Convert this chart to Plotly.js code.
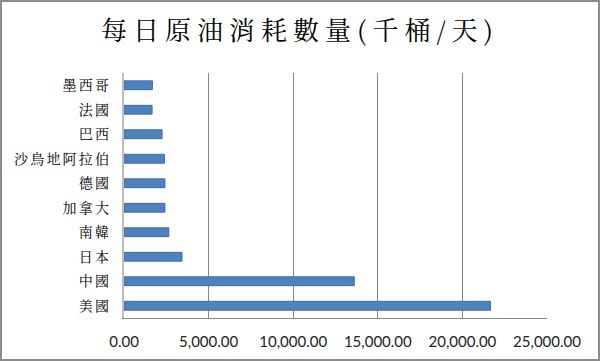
<!DOCTYPE html>
<html>
<head>
<meta charset="utf-8">
<script src="https://cdn.plot.ly/plotly-3.0.1.min.js"></script>
<style>
html,body{margin:0;padding:0;background:#fff;}
#wrap{position:relative;width:600px;height:361px;}
#chart{width:600px;height:361px;}
#frame{position:absolute;left:0;top:0;width:600px;height:361px;box-sizing:border-box;border:2px solid #8c8c8c;pointer-events:none;}
#chart .ytick text{letter-spacing:2.2px;}
#chart .gtitle{letter-spacing:6px;}
</style>
</head>
<body>
<div id="wrap"><div id="chart"></div><div id="frame"></div></div>
<script>
const categories = ["美國","中國","日本","南韓","加拿大","德國","沙烏地阿拉伯","巴西","法國","墨西哥"];
const values = [21660, 13610, 3430, 2650, 2420, 2420, 2390, 2250, 1660, 1680];
const tickVals = [0, 5000, 10000, 15000, 20000, 25000];
const tickText = ["0.00","5,000.00","10,000.00","15,000.00","20,000.00","25,000.00"];
const titleText = "每日原油消耗數量(千桶/天)";

const trace = {
  type: "bar",
  orientation: "h",
  y: categories,
  x: values,
  marker: {color: "#4F81BD", line: {color: "#3B6CA8", width: 1}},
  hoverinfo: "none"
};

const layout = {
  width: 600, height: 361,
  margin: {l: 124, r: 53, t: 73, b: 43, pad: 0},
  paper_bgcolor: "#ffffff",
  plot_bgcolor: "#ffffff",
  showlegend: false,
  bargap: 0.64,
  title: {
    text: titleText,
    font: {family: "Noto Serif CJK TC, Noto Sans CJK TC, serif", size: 26, color: "#000"},
    x: 0.5, xanchor: "center", y: 0.915, yanchor: "middle"
  },
  xaxis: {
    range: [0, 25000],
    tickvals: tickVals,
    ticktext: tickText,
    showgrid: true,
    gridcolor: "#868686",
    gridwidth: 1,
    zeroline: false,
    showline: true,
    linecolor: "#8a8a8a",
    linewidth: 1,
    ticks: "",
    ticklabelstandoff: 10,
    tickfont: {family: "Lato, Open Sans, sans-serif", size: 15, color: "#222"},
    fixedrange: true
  },
  yaxis: {
    type: "category",
    categoryorder: "array",
    categoryarray: categories,
    showgrid: false,
    zeroline: false,
    showline: true,
    linecolor: "#BEBEBE",
    linewidth: 2,
    ticks: "",
    ticklabelstandoff: 8,
    tickfont: {family: "Noto Serif CJK TC, Noto Sans CJK TC, serif", size: 14, color: "#000"},
    fixedrange: true
  }
};

Plotly.newPlot("chart", [trace], layout, {displayModeBar: false, staticPlot: true});
</script>
</body>
</html>
